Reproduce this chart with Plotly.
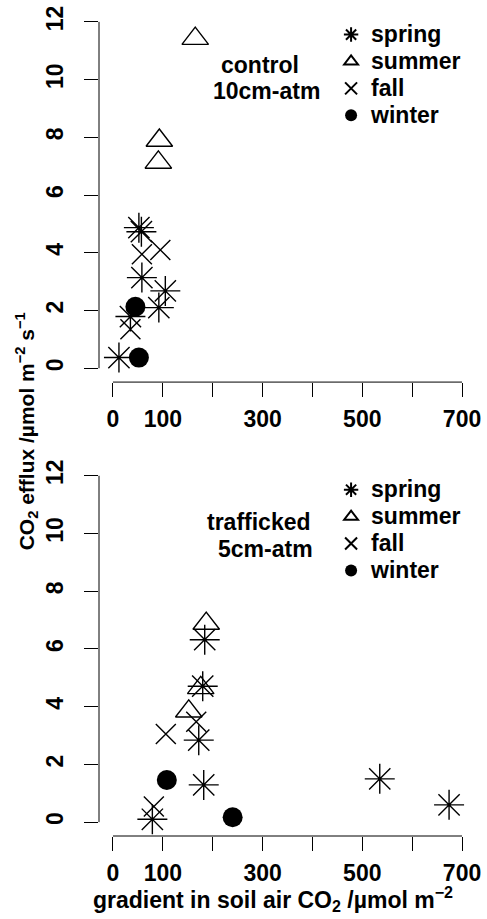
import plotly.graph_objects as go

# ---- data: CO2 efflux vs. soil-air CO2 gradient, by season ----
seasons = ["spring", "summer", "fall", "winter"]

# control plot, 10cm-atm gradient
ctrl_spring_x = [52, 57, 58, 105, 92, 35, 12]
ctrl_spring_y = [4.87, 4.73, 3.14, 2.68, 2.10, 1.79, 0.37]
ctrl_summer_x = [165, 93, 91]
ctrl_summer_y = [11.42, 7.89, 7.13]
ctrl_fall_x = [58, 95, 35]
ctrl_fall_y = [3.95, 4.10, 1.35]
ctrl_winter_x = [45, 52]
ctrl_winter_y = [2.13, 0.37]

# trafficked plot, 5cm-atm gradient
traf_spring_x = [184, 180, 172, 182, 79, 535, 674]
traf_spring_y = [6.32, 4.71, 2.84, 1.29, 0.10, 1.50, 0.60]
traf_summer_x = [187, 176, 152]
traf_summer_y = [6.88, 4.65, 3.84]
traf_fall_x = [106, 167, 82]
traf_fall_y = [3.05, 3.48, 0.54]
traf_winter_x = [108, 240]
traf_winter_y = [1.46, 0.17]

x_label_ticks = [0, 100, 300, 500, 700]
x_tick_step = 100
y_ticks = [0, 2, 4, 6, 8, 10, 12]

FONT = "Liberation Sans, Arial, Helvetica, sans-serif"
BIG = 23

# marker style per season
styles = {
    "spring": dict(symbol="asterisk-open", size=25, color="black",
                   line=dict(color="black", width=1.4)),
    "summer": dict(symbol="triangle-up-open", size=23, color="black",
                   line=dict(color="black", width=1.4)),
    "fall": dict(symbol="x-thin-open", size=20, color="black",
                 line=dict(color="black", width=1.4)),
    "winter": dict(symbol="circle", size=20, color="black",
                   line=dict(color="black", width=0)),
}

panels = [
    ("x", "y", "legend", {
        "spring": (ctrl_spring_x, ctrl_spring_y),
        "summer": (ctrl_summer_x, ctrl_summer_y),
        "fall": (ctrl_fall_x, ctrl_fall_y),
        "winter": (ctrl_winter_x, ctrl_winter_y),
    }),
    ("x2", "y2", "legend2", {
        "spring": (traf_spring_x, traf_spring_y),
        "summer": (traf_summer_x, traf_summer_y),
        "fall": (traf_fall_x, traf_fall_y),
        "winter": (traf_winter_x, traf_winter_y),
    }),
]

fig = go.Figure()
for xa, ya, leg, data in panels:
    for s in seasons:
        xs, ys = data[s]
        fig.add_trace(go.Scatter(
            x=xs, y=ys, mode="markers", xaxis=xa, yaxis=ya, legend=leg,
            name=f'<span style="font-size:{BIG}px">{s}</span>',
            marker=styles[s], hoverinfo="skip",
        ))

tick_style = dict(ticks="outside", ticklen=14, tickwidth=1, tickcolor="black")
axis_common = dict(
    showgrid=False, zeroline=False, showline=False, **tick_style,
    tickfont=dict(family=FONT, size=BIG, color="black", weight="bold"),
)
xaxis_kw = dict(axis_common, range=[-28, 728], tickmode="array",
                tickvals=x_label_ticks, ticklabelstandoff=2,
                minor=dict(tick_style, tick0=0, dtick=x_tick_step, showgrid=False))
yaxis_kw = dict(axis_common, range=[-0.48, 12.48], tickmode="array",
                tickvals=y_ticks, tickangle=-90, ticklabelstandoff=12)

top_dom = [0.5482, 1.0]
bot_dom = [0.0, 0.4518]

legend_font = dict(family=FONT, size=18.4, color="black", weight="bold")
fig.update_layout(
    width=487, height=919,
    margin=dict(l=99, r=10, t=6, b=83),
    paper_bgcolor="white", plot_bgcolor="white",
    showlegend=True,
    xaxis=dict(xaxis_kw, domain=[0, 1], anchor="y"),
    yaxis=dict(yaxis_kw, domain=top_dom, anchor="x"),
    xaxis2=dict(xaxis_kw, domain=[0, 1], anchor="y2"),
    yaxis2=dict(yaxis_kw, domain=bot_dom, anchor="x2"),
    legend=dict(x=0.6156, y=0.9902, xanchor="left", yanchor="top",
                bgcolor="rgba(0,0,0,0)", itemsizing="constant", font=legend_font),
    legend2=dict(x=0.6156, y=0.4405, xanchor="left", yanchor="top",
                 bgcolor="rgba(0,0,0,0)", itemsizing="constant", font=legend_font),
)

# R-style axis lines that span only the tick range
for xr, yr in [("x", "y"), ("x2", "y2")]:
    fig.add_shape(type="line", xref=xr, yref=f"{yr} domain",
                  x0=x_label_ticks[0], x1=x_label_ticks[-1], y0=0, y1=0,
                  line=dict(color="black", width=1))
    fig.add_shape(type="line", xref=f"{xr} domain", yref=yr,
                  x0=0, x1=0, y0=y_ticks[0], y1=y_ticks[-1],
                  line=dict(color="black", width=1))

txt_font = dict(family=FONT, size=BIG, color="black", weight="bold")
labels = [
    ("control", 0.426, 0.9313),
    ("10cm-atm", 0.444, 0.9000),
    ("trafficked", 0.4233, 0.3790),
    ("5cm-atm", 0.4418, 0.3468),
]
for t, px, py in labels:
    fig.add_annotation(text=t, x=px, y=py, xref="paper", yref="paper",
                       xanchor="center", yanchor="middle", showarrow=False,
                       font=txt_font)

# axis titles
fig.add_annotation(
    text="gradient in soil air CO<sub>2</sub> /µmol m<sup>−2</sup>",
    x=0.4616, y=-0.0759, xref="paper", yref="paper",
    xanchor="center", yanchor="middle", showarrow=False,
    font=dict(family=FONT, size=BIG, color="black", weight="bold"))
fig.add_annotation(
    text="CO<sub>2</sub> efflux /µmol m<sup>−2</sup> s<sup>−1</sup>",
    x=-0.193, y=0.489, xref="paper", yref="paper", textangle=-90,
    xanchor="center", yanchor="middle", showarrow=False,
    font=dict(family=FONT, size=21, color="black", weight="bold"))

fig.write_html("out.html")
